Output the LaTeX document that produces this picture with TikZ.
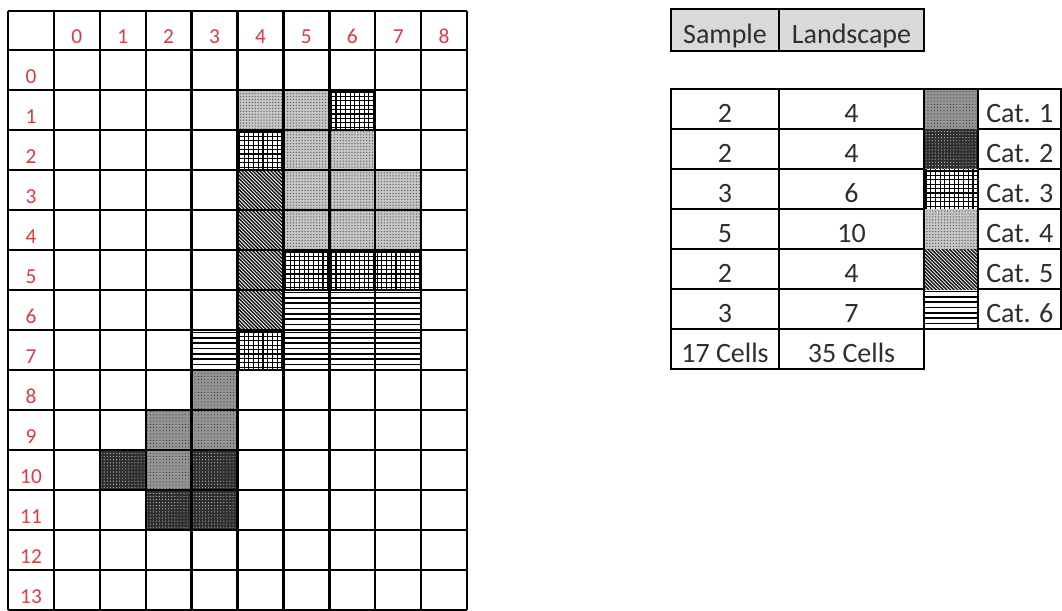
\documentclass[tikz,border=0pt]{standalone}
\usepackage{fontspec}
\setmainfont{Carlito}
\usetikzlibrary{patterns.meta}
\definecolor{lblred}{RGB}{218,60,68}
\definecolor{hdrgray}{RGB}{217,217,217}
\definecolor{txt}{RGB}{45,45,52}
% fill macros: #1 x1, #2 y1, #3 x2, #4 y2
\newcommand\catfillA[4]{\path[cat1] (#1,#2) rectangle (#3,#4);}
\newcommand\catfillB[4]{\path[cat2] (#1,#2) rectangle (#3,#4);}
\newcommand\catfillC[4]{\begin{scope}\clip (#1,#2) rectangle (#3,#4);
  \foreach \t in {0,...,10}{\draw[hatchln] ({#1+2+4.7*\t},#2) -- ({#1+2+4.7*\t},#4);
    \draw[hatchln] (#1,{#2+2+4.4*\t}) -- (#3,{#2+2+4.4*\t});}\end{scope}}
\newcommand\catfillD[4]{\path[cat4] (#1,#2) rectangle (#3,#4);}
\newcommand\catfillE[4]{\begin{scope}\clip (#1,#2) rectangle (#3,#4);
  \foreach \t in {-14,...,14}{\draw[diagln] ({#1+3.6*\t},#2) -- ({#1+3.6*\t+60},{#2+60});}\end{scope}}
\newcommand\catfillF[4]{\begin{scope}\clip (#1,#2) rectangle (#3,#4);
  \foreach \t in {0,...,7}{\draw[horln] (#1,{#2+2.5+5.3*\t}) -- (#3,{#2+2.5+5.3*\t});}\end{scope}}
\newcommand\gcell[3]{\pgfmathsetmacro\xa{8+45.9*(#3+1)}\pgfmathsetmacro\xb{8+45.9*(#3+2)}%
  \pgfmathsetmacro\ya{50+40*#2}\pgfmathsetmacro\yb{90+40*#2}%
  \csname catfill#1\endcsname{\xa}{\ya}{\xb}{\yb}}
\newcommand\lcell[2]{\pgfmathsetmacro\ya{89+40*#2}\pgfmathsetmacro\yb{129+40*#2}%
  \csname catfill#1\endcsname{924}{\ya}{978}{\yb}}
\begin{document}
\begin{tikzpicture}[x=0.75pt,y=-0.75pt,
  gridline/.style={line width=1.8pt,black},
  tline/.style={line width=1.8pt,black},
  hatchln/.style={line width=0.8pt,black},
  diagln/.style={line width=1.1pt,black!90},
  horln/.style={line width=1.2pt,black},
  lbl/.style={anchor=base,inner sep=0pt,text=lblred,font=\fontsize{16}{18}\selectfont},
  ttext/.style={anchor=base,inner sep=0pt,text=txt,font=\fontsize{21}{24}\selectfont},
  cat1/.style={fill=black!42,postaction={pattern={Dots[distance=2.4pt,radius=0.4pt]},pattern color=black!85}},
  cat2/.style={fill=black!82,postaction={pattern={Dots[distance=2.3pt,radius=0.42pt]},pattern color=white!80!black}},
  cat4/.style={fill=black!22,postaction={pattern={Dots[distance=2.2pt,radius=0.55pt]},pattern color=black!62}}]
\useasboundingbox (0,0) rectangle (1062,610);
\fill[white] (0,0) rectangle (1062,610);
% ---- grid fills
\gcell{D}{1}{4}\gcell{D}{1}{5}\gcell{C}{1}{6}
\gcell{C}{2}{4}\gcell{D}{2}{5}\gcell{D}{2}{6}
\gcell{E}{3}{4}\gcell{D}{3}{5}\gcell{D}{3}{6}\gcell{D}{3}{7}
\gcell{E}{4}{4}\gcell{D}{4}{5}\gcell{D}{4}{6}\gcell{D}{4}{7}
\gcell{E}{5}{4}\gcell{C}{5}{5}\gcell{C}{5}{6}\gcell{C}{5}{7}
\gcell{E}{6}{4}\gcell{F}{6}{5}\gcell{F}{6}{6}\gcell{F}{6}{7}
\gcell{F}{7}{3}\gcell{C}{7}{4}\gcell{F}{7}{5}\gcell{F}{7}{6}\gcell{F}{7}{7}
\gcell{A}{8}{3}
\gcell{A}{9}{2}\gcell{A}{9}{3}
\gcell{B}{10}{1}\gcell{A}{10}{2}\gcell{B}{10}{3}
\gcell{B}{11}{2}\gcell{B}{11}{3}
% ---- grid lines
\foreach \i in {0,...,10} \draw[gridline] ({8+45.9*\i},11) -- ({8+45.9*\i},610);
\draw[gridline] (8,11) -- (467,11);
\foreach \r in {0,...,14} \draw[gridline] (8,{50+40*\r}) -- (467,{50+40*\r});
% ---- labels
\foreach \c in {0,...,8} \node[lbl] (col\c) at ({8+45.9*(\c+1.5)},44) {\c};
\foreach \r in {0,...,13} \node[lbl] (row\r) at (31,{83.5+40*\r}) {\r};
% ---- header table
\fill[hdrgray] (671,9) rectangle (924,51);
\draw[tline] (671,9) rectangle (924,51);
\draw[tline] (779,9) -- (779,51);
\node[ttext] (hsample) at (725,44) {Sample};
\node[ttext] (hland) at (851.5,44) {Landscape};
% ---- legend patterns
\lcell{A}{0}\lcell{B}{1}\lcell{C}{2}\lcell{D}{3}\lcell{E}{4}\lcell{F}{5}
% ---- main table
\draw[tline] (671,89) rectangle (924,369);
\foreach \k in {1,...,6} \draw[tline] (671,{89+40*\k}) -- (924,{89+40*\k});
\draw[tline] (779,89) -- (779,369);
\foreach \k in {0,...,5} \draw[tline] (978,{89+40*\k}) rectangle (1061,{129+40*\k});
\draw[tline] (924,89) -- (978,89);
\draw[tline] (924,329) -- (978,329);
\foreach \s/\l/\k in {2/4/0,2/4/1,3/6/2,5/10/3,2/4/4,3/7/5}{
  \node[ttext] (s\k) at (725,{122+40*\k}) {\s};
  \node[ttext] (l\k) at (851.5,{122+40*\k}) {\l};
  \pgfmathtruncatemacro\n{\k+1}
  \node[ttext,anchor=base west] (c\k) at (986,{122+40*\k}) {Cat. \n};
}
\node[ttext] (stot) at (725,362) {17 Cells};
\node[ttext] (ltot) at (851.5,362) {35 Cells};
\end{tikzpicture}
\end{document}
